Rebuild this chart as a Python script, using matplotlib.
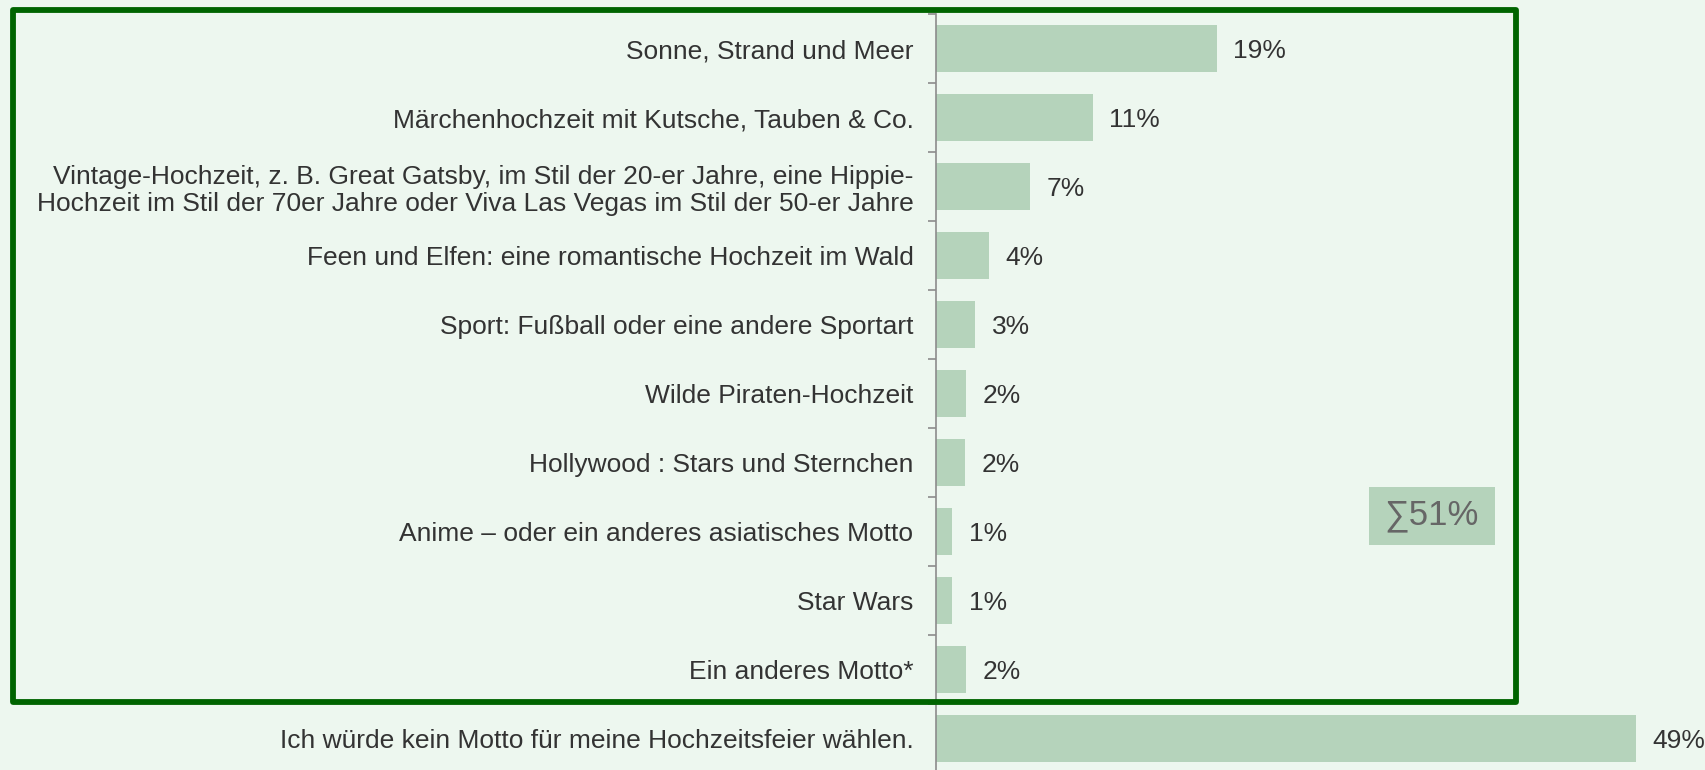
import matplotlib.pyplot as plt
from matplotlib.patches import Rectangle

plt.rcParams['font.family'] = ['Liberation Sans', 'DejaVu Sans']

categories = [
    "Sonne, Strand und Meer",
    "Märchenhochzeit mit Kutsche, Tauben & Co.",
    "Vintage-Hochzeit, z. B. Great Gatsby, im Stil der 20-er Jahre, eine Hippie-\n"
    "Hochzeit im Stil der 70er Jahre oder Viva Las Vegas im Stil der 50-er Jahre",
    "Feen und Elfen: eine romantische Hochzeit im Wald",
    "Sport: Fußball oder eine andere Sportart",
    "Wilde Piraten-Hochzeit",
    "Hollywood : Stars und Sternchen",
    "Anime – oder ein anderes asiatisches Motto",
    "Star Wars",
    "Ein anderes Motto*",
    "Ich würde kein Motto für meine Hochzeitsfeier wählen.",
]
# bar lengths (percent)
values = [19.66, 10.99, 6.62, 3.73, 2.75, 2.12, 2.05, 1.14, 1.14, 2.12, 49.0]
value_labels = ["19%", "11%", "7%", "4%", "3%", "2%", "2%", "1%", "1%", "2%", "49%"]
sum_label = "∑51%"

bg = '#edf7ef'
bar_col = '#b5d3bb'
txt_col = '#333333'
axis_col = '#8c8c8c'

fig = plt.figure(figsize=(17.05, 7.7), dpi=100, facecolor=bg)
ax = fig.add_axes([0.5488, 0.0, 0.4512, 756 / 770])
ax.set_facecolor(bg)

ypos = list(range(len(categories)))
ax.barh(ypos, values, height=0.68, color=bar_col, zorder=2)

for y, v, lab in zip(ypos, values, value_labels):
    ax.annotate(lab, (v, y), xytext=(12, 0), textcoords='offset points',
                va='center_baseline', ha='left', fontsize=19, color=txt_col)

ax.set_yticks(ypos)
ax.set_yticklabels(categories, fontsize=19, color=txt_col, linespacing=1.15)
ax.set_yticks([y - 0.5 for y in ypos], minor=True)
ax.tick_params(axis='y', which='major', length=0, pad=16)
ax.tick_params(axis='y', which='minor', length=5.5, width=1.2, color=axis_col)
ax.set_xticks([])
ax.set_xlim(0, 53.84)
ax.set_ylim(10.45, -0.5)
for s in ['top', 'right', 'bottom']:
    ax.spines[s].set_visible(False)
ax.spines['left'].set_color(axis_col)
ax.spines['left'].set_linewidth(1.2)

# green frame around the themed answers
fig.add_artist(Rectangle((0.00745, 0.0879), 0.8891 - 0.00745, 0.9866 - 0.0879,
                         transform=fig.transFigure, fill=False,
                         edgecolor='#006400', lw=4.2, joinstyle='round', zorder=5))

# sum box
fig.add_artist(Rectangle((0.8029, 0.2926), 0.0739, 0.0749,
                         transform=fig.transFigure, facecolor=bar_col,
                         edgecolor='none', zorder=5))
fig.text(0.8399, 0.3301, sum_label, ha='center', va='center',
         fontsize=25, color='#666666', zorder=6)

fig.savefig('out.png', dpi=100, facecolor=bg)
